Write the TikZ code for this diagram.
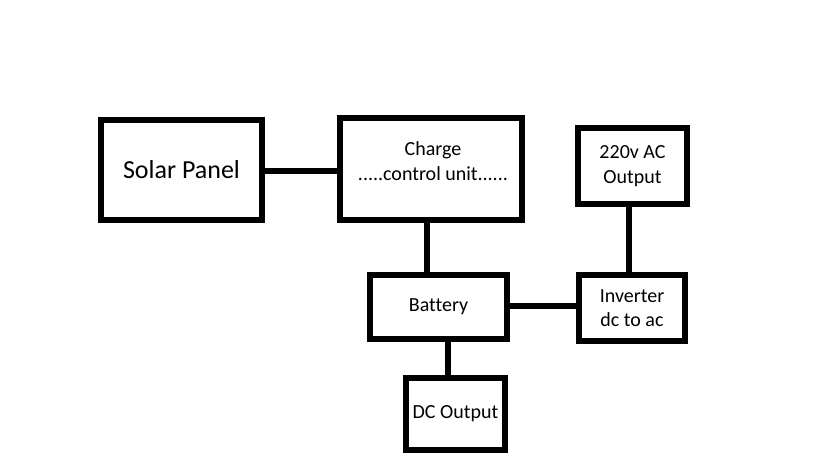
\documentclass[tikz,border=0pt]{standalone}
\usepackage{fontspec}
\setmainfont{Carlito}[Ligatures=NoCommon]
\begin{document}
\begin{tikzpicture}[x=1pt,y=1pt,
  blk/.style={draw=black,line width=6pt,rectangle,inner sep=0pt,align=center,font=\fontsize{20}{24.5}\selectfont},
  wire/.style={draw=black,line width=5.5pt}]
\useasboundingbox[fill=white] (0,0) rectangle (819,460);
\node[blk,minimum width=161pt,minimum height=100pt,font=\fontsize{26}{30}\selectfont] (solar) at (181.5,290) {Solar Panel};
\node[blk,minimum width=182pt,minimum height=102pt] (charge) at (431,291) {};
\node[align=center,inner sep=0pt,font=\fontsize{20}{24.5}\selectfont] (chargetxt) at (433,299) {Charge\\.....control unit......};
\node[blk,minimum width=137pt,minimum height=64pt] (battery) at (438.5,153) {Battery};
\node[blk,minimum width=106pt,minimum height=66pt] (inverter) at (632,152) {Inverter\\dc to ac};
\node[blk,minimum width=109pt,minimum height=76pt] (ac) at (632.5,294) {220v AC\\Output};
\node[blk,minimum width=99pt,minimum height=72pt] (dc) at (455.5,46) {DC Output};
\draw[wire,line cap=round] ([yshift=-1pt]solar.east) -- ([yshift=-1pt,xshift=3pt]solar.east -| charge.west);
\draw[wire] ([xshift=-4pt]charge.south) -- ([xshift=-4pt]charge.south |- battery.north);
\draw[wire,line cap=round] ([yshift=1pt]battery.east) -- ([yshift=1pt,xshift=1pt]battery.east -| inverter.west);
\draw[wire] ([xshift=-3pt]inverter.north) -- ([xshift=-3pt]inverter.north |- ac.south);
\draw[wire] ([xshift=9.5pt]battery.south) -- ([xshift=9.5pt]battery.south |- dc.north);
\end{tikzpicture}
\end{document}
